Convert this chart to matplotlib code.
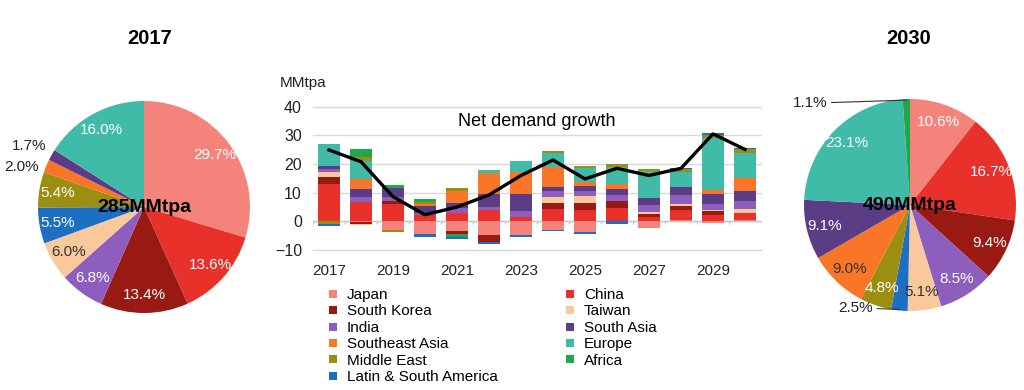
import numpy as np
import matplotlib
matplotlib.use("Agg")
import matplotlib.pyplot as plt
from matplotlib.lines import Line2D

plt.rcParams["font.family"] = ["Liberation Sans", "DejaVu Sans"]

# --- data ---------------------------------------------------------------
years = list(range(2017, 2031))

regions = ["Japan", "China", "South Korea", "Taiwan", "India", "South Asia",
           "Southeast Asia", "Europe", "Middle East", "Africa", "Latin & South America"]

colors = {
    "Japan": "#F4837B",
    "China": "#E8312B",
    "South Korea": "#991A12",
    "Taiwan": "#F9C89C",
    "India": "#8D5EBE",
    "South Asia": "#5A3D85",
    "Southeast Asia": "#F97629",
    "Europe": "#40BBA8",
    "Middle East": "#9C8E10",
    "Africa": "#22A64B",
    "Latin & South America": "#1C6FC2",
}

japan = [0.0, -0.3, -3.0, -4.5, -3.4, -4.8, -4.8, -3.0, -3.6, 0.0, -2.4, 0.5, -0.6, 0.3]
china = [13.0, 6.6, 6.0, 2.2, 3.0, 4.0, 1.6, 4.3, 4.0, 4.5, 1.6, 3.3, 2.3, 2.6]
south_korea = [2.3, -0.5, 1.0, 0.0, -1.0, -2.3, 0.0, 2.0, 2.3, 2.7, 0.9, 1.7, 1.2, 0.0]
taiwan = [1.9, -0.4, 0.0, 0.0, 0.0, 0.0, 0.0, 2.3, 2.6, 0.0, 0.8, 0.6, 0.6, 1.5]
india = [0.9, 2.0, 1.5, 0.8, 1.5, 1.1, 1.9, 1.9, 1.7, 2.0, 2.3, 3.1, 2.0, 2.7]
south_asia = [1.2, 2.6, 3.2, 2.2, 1.8, 4.3, 6.1, 1.6, 1.7, 2.0, 2.7, 2.7, 3.3, 3.4]
southeast_asia = [0.0, 3.5, 0.0, 0.8, 4.4, 7.3, 7.5, 6.8, 1.5, 1.7, 0.0, 0.0, 1.7, 4.6]
europe = [7.6, 6.4, 0.0, 0.0, 0.0, 1.2, 4.1, 4.9, 4.9, 6.2, 9.3, 5.2, 18.0, 8.8]
middle_east = [-0.9, 1.5, -0.8, 0.7, 0.8, 0.0, 0.0, 0.7, 0.6, 0.8, 0.8, 1.2, 0.9, 1.2]
africa = [0.0, 2.5, 1.0, 1.2, -1.2, 0.0, 0.0, 0.0, 0.0, 0.0, 0.0, 0.0, 0.0, 0.0]
latin = [-0.9, 0.0, 0.0, -0.8, -0.6, -0.8, -0.6, -0.3, -0.8, -0.9, 0.0, 0.4, 0.7, 0.6]

net_growth = [24.9, 20.8, 8.6, 2.3, 5.0, 9.2, 16.0, 21.4, 14.8, 18.5, 16.0, 18.5, 30.5, 25.1]

growth = dict(zip(regions, [japan, china, south_korea, taiwan, india, south_asia,
                            southeast_asia, europe, middle_east, africa, latin]))

pie_order = ["Japan", "China", "South Korea", "India", "Taiwan", "Latin & South America",
             "Middle East", "Southeast Asia", "South Asia", "Europe", "Africa"]
share_2017 = [29.7, 13.6, 13.4, 6.8, 6.0, 5.5, 5.4, 2.0, 1.7, 16.0, 0.0]
share_2030 = [10.6, 16.7, 9.4, 8.5, 5.1, 2.5, 4.8, 9.0, 9.1, 23.1, 1.1]
total_2017 = "285MMtpa"
total_2030 = "490MMtpa"

dark_labels = {"Taiwan", "Southeast Asia"}

W, H = 1024, 390
fig = plt.figure(figsize=(W / 100, H / 100), dpi=100)


def pie_panel(rect, shares, title, total, title_x, outside):
    ax = fig.add_axes(rect)
    keep = [(r, s) for r, s in zip(pie_order, shares) if s > 0]
    names = [r for r, _ in keep]
    vals = [s for _, s in keep]
    wedges, _ = ax.pie(vals, colors=[colors[n] for n in names], startangle=90,
                       counterclock=False, radius=1.0, wedgeprops=dict(linewidth=0))
    for w, n, v in zip(wedges, names, vals):
        th = np.radians((w.theta1 + w.theta2) / 2)
        d = np.array([np.cos(th), np.sin(th)])
        lab = f"{v:.1f}%"
        if n in outside:
            pos, line = outside[n]
            if line:
                ax.annotate(lab, xy=d * 0.99, xytext=pos, ha="right", va="center",
                            fontsize=11, color="#222222",
                            arrowprops=dict(arrowstyle="-", color="#333333", lw=0.8,
                                            shrinkA=1, shrinkB=0))
            else:
                ax.text(pos[0], pos[1], lab, ha="right", va="center", fontsize=11,
                        color="#222222")
        else:
            c = "#333333" if n in dark_labels else "white"
            x, y = d * 0.83
            ax.text(x, y, lab, ha="center", va="center", fontsize=11, color=c)
    ax.text(0, 0, total, ha="center", va="center", fontsize=14, fontweight="bold",
            color="black")
    ax.set_xlim(-1, 1)
    ax.set_ylim(-1, 1)
    ax.set_aspect("equal")
    fig.text(title_x, 1 - 38 / H, title, ha="center", va="center", fontsize=14.5,
             fontweight="bold")


# 2017 pie
pie_panel([38 / W, 1 - 313 / H, 212 / W, 212 / H], share_2017, "2017", total_2017, 150 / W,
          {"Southeast Asia": ((-0.99, 0.38), False), "South Asia": ((-0.92, 0.58), False)})

# 2030 pie
pie_panel([804 / W, 1 - 311 / H, 212 / W, 212 / H], share_2030, "2030", total_2030, 909 / W,
          {"Africa": ((-0.78, 0.96), True), "Latin & South America": ((-0.35, -0.97), True)})

# --- bar chart -----------------------------------------------------------
ax = fig.add_axes([313 / W, 1 - 250 / H, 448 / W, 143.3 / H])
x = np.arange(len(years))
pos_bottom = np.zeros(len(years))
neg_bottom = np.zeros(len(years))
for r in regions:
    v = np.array(growth[r])
    p = np.where(v > 0, v, 0)
    n = np.where(v < 0, v, 0)
    ax.bar(x, p, 0.66, bottom=pos_bottom, color=colors[r], linewidth=0, zorder=2)
    ax.bar(x, n, 0.66, bottom=neg_bottom, color=colors[r], linewidth=0, zorder=2)
    pos_bottom += p
    neg_bottom += n

ax.plot(x, net_growth, color="black", lw=2.4, zorder=4)

ax.set_xlim(-0.5, len(years) - 0.5)
ax.set_ylim(-10, 40)
ax.set_yticks([-10, 0, 10, 20, 30, 40])
ax.set_xticks(x[::2])
ax.set_xticklabels([str(y) for y in years[::2]])
ax.tick_params(axis="both", length=0, labelsize=11, colors="#222222")
ax.tick_params(axis="x", pad=10)
ax.tick_params(axis="y", pad=8, labelsize=11.5)
for s in ax.spines.values():
    s.set_visible(False)
ax.yaxis.grid(True, color="#d9d9d9", lw=1)
for gl in ax.get_ygridlines():
    gl.set_clip_on(False)
ax.set_axisbelow(True)
ax.axhline(0, color="#c8c8c8", lw=1, zorder=1)
ax.vlines(np.arange(len(years) + 1) - 0.5, -0.9, 0, color="#c8c8c8", lw=1, zorder=1)

ax.text(0.5, 0.9, "Net demand growth", transform=ax.transAxes, ha="center", va="center",
        fontsize=13)
fig.text(280 / W, 1 - 83 / H, "MMtpa", ha="left", va="center", fontsize=11, color="#222222")

# legend: column-first order
leg_order = ["Japan", "South Korea", "India", "Southeast Asia", "Middle East",
             "Latin & South America", "China", "Taiwan", "South Asia", "Europe", "Africa"]
handles = [Line2D([], [], marker="s", ls="none", markersize=6, color=colors[r],
                  markeredgewidth=0) for r in leg_order]
fig.legend(handles, leg_order, loc="upper left", bbox_to_anchor=(326 / W, 1 - 288 / H),
           ncol=2, frameon=False, fontsize=11, handlelength=0.9, handletextpad=0.45,
           labelspacing=0.16, columnspacing=4.3, borderpad=0, borderaxespad=0)

fig.savefig("out.png", dpi=100, facecolor="white")
